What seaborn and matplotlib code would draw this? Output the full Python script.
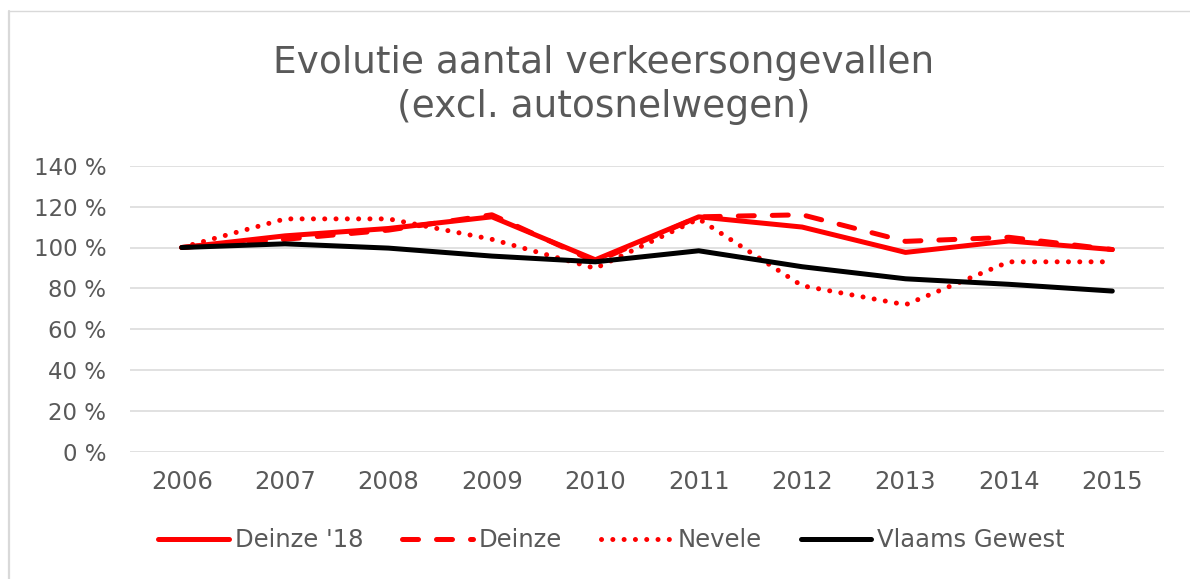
import numpy as np
import pandas as pd
import seaborn as sns
import matplotlib
matplotlib.use("Agg")
import matplotlib.pyplot as plt
from matplotlib.lines import Line2D

years = ["2006", "2007", "2008", "2009", "2010", "2011", "2012", "2013", "2014", "2015"]
deinze_18 = [100, 105.7, 109.3, 115, 94, 115, 110, 97.6, 103.2, 99]
deinze = [100, 104, 108.5, 116, 93, 115, 116, 103, 105, 99]
nevele = [100, 114, 114, 104, 89.8, 114, 81.3, 72, 93, 93]
vlaams_gewest = [100, 101.8, 99.7, 95.8, 93, 98.4, 90.6, 84.7, 82, 78.7]

series_names = ["Deinze '18", "Deinze", "Nevele", "Vlaams Gewest"]
series_values = [deinze_18, deinze, nevele, vlaams_gewest]

rows = []
for name, vals in zip(series_names, series_values):
    for i, v in enumerate(vals):
        rows.append({"idx": i, "pct": v, "reeks": name})
df = pd.DataFrame(rows)

sns.set_style("white")
plt.rcParams["font.family"] = ["DejaVu Sans"]
grey = "#595959"

fig = plt.figure(figsize=(11.9, 5.79), dpi=100)
ax = fig.add_axes([130 / 1190, 127 / 579, 1034 / 1190, 286.3 / 579])

palette = {"Deinze '18": "#ff0000", "Deinze": "#ff0000", "Nevele": "#ff0000", "Vlaams Gewest": "#000000"}
dashes = {"Deinze '18": "", "Deinze": (3.2, 3.6), "Nevele": (0.01, 2.25), "Vlaams Gewest": ""}

sns.lineplot(data=df, x="idx", y="pct", hue="reeks", style="reeks",
             hue_order=series_names, style_order=series_names,
             palette=palette, dashes=dashes, linewidth=3.6,
             legend=False, ax=ax, zorder=3)

for ln in ax.get_lines():
    ln.set_solid_capstyle("round")
    ln.set_dash_capstyle("round")
    ln.set_solid_joinstyle("round")

ax.set_xlim(-0.5, len(years) - 0.5)
ax.set_ylim(0, 140)
ax.set_xticks(range(len(years)))
ax.set_xticklabels(years)
ax.set_yticks(range(0, 141, 20))
ax.set_yticklabels([f"{t} %" for t in range(0, 141, 20)])
ax.tick_params(axis="both", length=0, labelsize=17.5, colors=grey)
ax.tick_params(axis="y", pad=17, labelsize=16.5)
ax.tick_params(axis="x", pad=13)
ax.set_xlabel("")
ax.set_ylabel("")
ax.grid(axis="y", color="#d9d9d9", linewidth=1.1)
ax.grid(axis="x", visible=False)
for s in ax.spines.values():
    s.set_visible(False)

fig.text(0.507, 0.853, "Evolutie aantal verkeersongevallen\n(excl. autosnelwegen)",
         ha="center", va="center", fontsize=27, color=grey, linespacing=1.3)

handles = ax.get_lines()[:4]
fig.legend(handles, series_names, loc="center", bbox_to_anchor=(0.514, 0.067),
           ncol=4, frameon=False, fontsize=17.5, labelcolor=grey,
           handlelength=2.9, handletextpad=0.25, columnspacing=1.6)

# chart border (only left and top visible in the crop)
fig.add_artist(Line2D([9 / 1190, 9 / 1190], [0, 1 - 11 / 579], color="#d9d9d9", linewidth=1.6))
fig.add_artist(Line2D([9 / 1190, 1], [1 - 11 / 579, 1 - 11 / 579], color="#d9d9d9", linewidth=1.0))

fig.savefig("out.png", dpi=100)
